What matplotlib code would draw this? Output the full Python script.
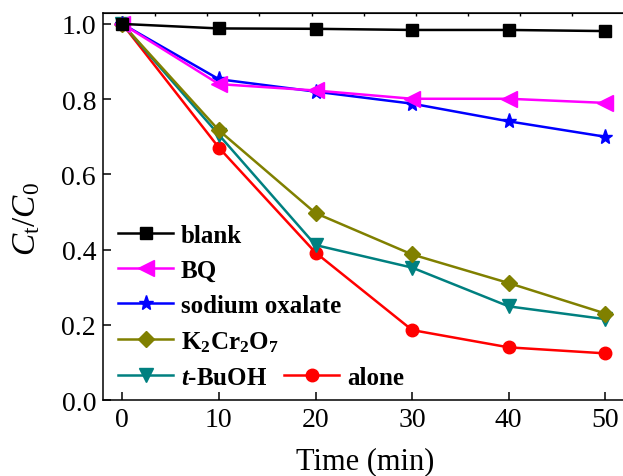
import matplotlib
matplotlib.use("Agg")
import matplotlib.pyplot as plt

# data
time = [0, 10, 20, 30, 40, 50]
blank = [1.0, 0.988, 0.987, 0.984, 0.984, 0.981]
bq = [1.0, 0.840, 0.823, 0.801, 0.801, 0.790]
oxalate = [1.0, 0.853, 0.820, 0.788, 0.741, 0.700]
k2cr2o7 = [1.0, 0.717, 0.497, 0.387, 0.311, 0.230]
tbuoh = [1.0, 0.705, 0.412, 0.352, 0.249, 0.215]
alone = [1.0, 0.671, 0.392, 0.186, 0.140, 0.124]

plt.rcParams["font.family"] = ["Liberation Serif", "DejaVu Serif"]
plt.rcParams["mathtext.fontset"] = "custom"
plt.rcParams["mathtext.rm"] = "Liberation Serif"
plt.rcParams["mathtext.it"] = "Liberation Serif:italic"
plt.rcParams["mathtext.bf"] = "Liberation Serif:bold"
plt.rcParams["mathtext.bfit"] = "Liberation Serif:italic:bold"

fig = plt.figure(figsize=(6.23, 4.77), dpi=100)
# right edge of the frame sits just outside the image, as in the reference
ax = fig.add_axes([0.1653, 0.1593, 0.842, 0.8113])

lw = 1.8
l_alone, = ax.plot(time, alone, color="#FF0000", marker="o", ms=9, lw=lw, label="alone")
l_tb, = ax.plot(time, tbuoh, color="#008080", marker="v", ms=10, lw=lw,
                label=r"$\mathbfit{t}$-BuOH")
l_k, = ax.plot(time, k2cr2o7, color="#808000", marker="D", ms=8.5, lw=lw,
               label=r"$\mathbf{K_2Cr_2O_7}$")
l_ox, = ax.plot(time, oxalate, color="#0000FF", marker="*", ms=11, lw=lw,
                label="sodium oxalate")
l_bq, = ax.plot(time, bq, color="#FF00FF", marker="<", ms=11, lw=lw, label="BQ")
l_bl, = ax.plot(time, blank, color="#000000", marker="s", ms=8, lw=lw, label="blank")

ax.set_xlim(-2, 52.3)
ax.set_ylim(0, 1.029)
ax.set_xticks([0, 10, 20, 30, 40, 50])
ax.set_yticks([0.0, 0.2, 0.4, 0.6, 0.8, 1.0])
ax.set_yticklabels(["0.0", "0.2", "0.4", "0.6", "0.8", "1.0"])
ax.tick_params(direction="in", length=5.5, width=1.1, labelsize=20, pad=5)
for s in ax.spines.values():
    s.set_linewidth(1.1)
ax.spines["right"].set_visible(False)

# small ticks along the top frame
top = ax.secondary_xaxis("top", functions=(lambda v: (v + 2) / 54, lambda f: f * 54 - 2))
top.set_xticks([0.1, 0.2, 0.3, 0.4, 0.5, 0.6, 0.7, 0.8, 0.9])
top.tick_params(direction="in", length=2.5, width=1, labeltop=False)
for name in ["left", "right", "bottom"]:
    top.spines[name].set_visible(False)

ax.set_xlabel("Time (min)", fontsize=22, labelpad=10)
ax.set_ylabel(r"$C_{\mathrm{t}}/C_0$", fontsize=24, labelpad=2)
ax.yaxis.set_label_coords(-0.115, 0.47)

prop = {"family": "Liberation Serif", "weight": "bold", "size": 18}
leg1 = ax.legend(handles=[l_bl, l_bq, l_ox, l_k, l_tb], loc="upper left",
                 bbox_to_anchor=(0.029, 0.455), frameon=False, prop=prop,
                 handlelength=2.2, handletextpad=0.3, labelspacing=0.48,
                 borderpad=0, borderaxespad=0)
ax.add_artist(leg1)
ax.legend(handles=[l_alone], loc="center left", bbox_to_anchor=(0.346, 0.058),
          frameon=False, prop=prop, handlelength=2.2, handletextpad=0.3,
          borderpad=0, borderaxespad=0)

fig.savefig("out.png", dpi=100)
